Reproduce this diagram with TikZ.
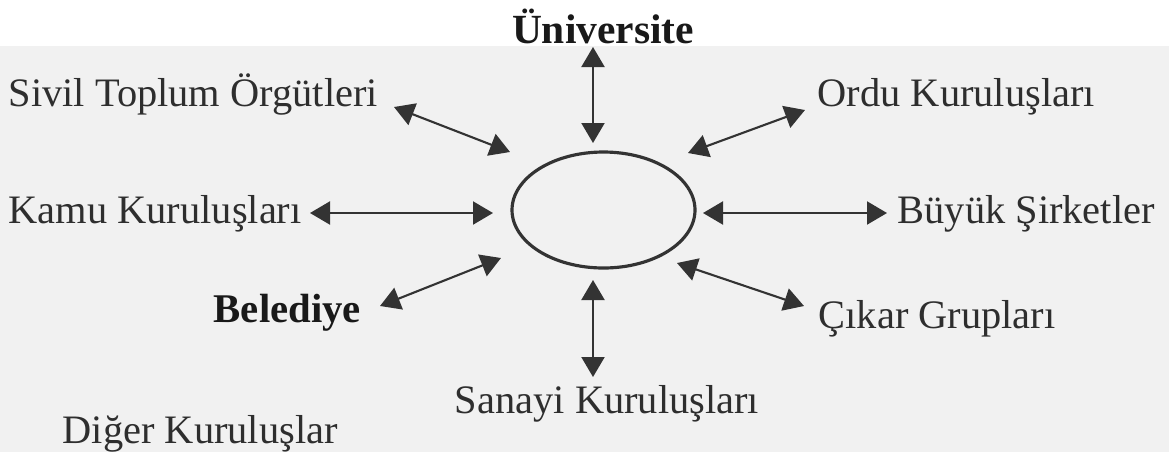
\documentclass[tikz,border=0pt]{standalone}
\usepackage{fontspec}
\setmainfont{Liberation Serif}
\usepackage{tikz}
\usetikzlibrary{arrows.meta,positioning,calc,shapes.geometric}
\definecolor{pPaper}{HTML}{F1F1F1}
\definecolor{pInk}{HTML}{2E2E2E}
\definecolor{pArrow}{HTML}{333333}
\tikzset{
  >=Stealth,
  lbl/.style ={text=pInk,inner sep=0pt,font=\fontsize{11.5}{13}\selectfont},
  lblb/.style={text=black!90,inner sep=0pt,font=\fontsize{11.6}{13}\selectfont\bfseries},
  hub/.style ={ellipse,draw=pArrow,line width=0.9pt,minimum width=1.83cm,minimum height=1.16cm,inner sep=0pt},
  link/.style={{Triangle[length=2mm,width=2.3mm]}-{Triangle[length=2mm,width=2.3mm]},pArrow,line width=0.6pt},
}

\begin{document}
\begin{tikzpicture}
  \useasboundingbox (0,0) rectangle (11.69,4.52);
  % ---- paper ----
  \fill[white] (0,0) rectangle (11.69,4.52);
  \fill[pPaper] (0,0) rectangle (11.69,4.06);

  % ---- centre ----
  \node[hub] (c) at (6.035,2.42) {};

  % ---- labels ----
  \node[lblb,anchor=base,font=\fontsize{11.8}{13}\selectfont\bfseries] (uni) at (6.03,4.09) {Üniversite};
  \node[lbl,anchor=base west] (sivil) at (0.08,3.46) {Sivil Toplum Örgütleri};
  \node[lbl,anchor=base west] (ordu) at (8.17,3.46) {Ordu Kuruluşları};
  \node[lbl,anchor=base west] (kamu) at (0.08,2.29) {Kamu Kuruluşları};
  \node[lbl,anchor=base west] (buyuk) at (8.97,2.29) {Büyük Şirketler};
  \node[lblb,anchor=base west] (bel) at (2.13,1.30) {Belediye};
  \node[lbl,anchor=base west] (cikar) at (8.18,1.24) {Çıkar Grupları};
  \node[lbl,anchor=base] (sanayi) at (6.07,0.39) {Sanayi Kuruluşları};
  \node[lbl,anchor=base west] (diger) at (0.62,0.09) {Diğer Kuruluşlar};

  % ---- arrow ends ----
  \coordinate (uniA) at (5.93,4.05);   \coordinate (uniB) at (5.93,3.09);
  \coordinate (sivA) at (3.94,3.45);   \coordinate (sivB) at (5.10,3.00);
  \coordinate (ordA) at (8.05,3.42);   \coordinate (ordB) at (6.88,2.99);
  \coordinate (kamA) at (3.10,2.39);   \coordinate (kamB) at (4.93,2.39);
  \coordinate (buyA) at (8.87,2.39);   \coordinate (buyB) at (7.03,2.39);
  \coordinate (belA) at (3.80,1.46);   \coordinate (belB) at (5.01,1.94);
  \coordinate (cikA) at (8.04,1.46);   \coordinate (cikB) at (6.77,1.89);
  \coordinate (sanA) at (5.93,0.75);   \coordinate (sanB) at (5.93,1.72);

  \foreach \p in {uni,siv,ord,kam,buy,bel,cik,san}
    \draw[link] (\p A) -- (\p B);
\end{tikzpicture}
\end{document}
